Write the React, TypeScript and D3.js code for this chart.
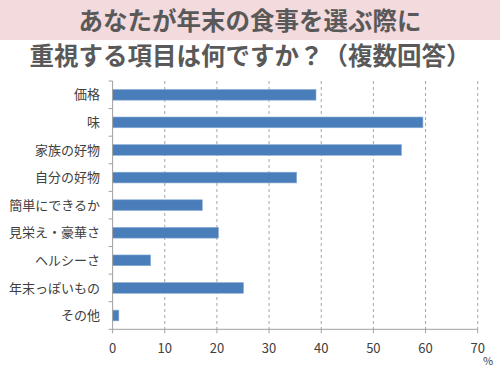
import { useEffect, useRef } from 'react';
import { select, scaleLinear, scaleBand, range } from 'd3';

const width = 500;
const height = 375;
const margin = { top: 81, right: 22, bottom: 46, left: 112.6 };

const titleLines = ['あなたが年末の食事を選ぶ際に', '重視する項目は何ですか？（複数回答）'];
const categories = ['価格', '味', '家族の好物', '自分の好物', '簡単にできるか', '見栄え・豪華さ', 'ヘルシーさ', '年末っぽいもの', 'その他'];
const values = [39.0, 59.5, 55.4, 35.3, 17.2, 20.3, 7.3, 25.1, 1.2];
const xTicks = [0, 10, 20, 30, 40, 50, 60, 70];

const font = '"Noto Sans CJK JP", "Noto Sans", sans-serif';

export default function App() {
  const ref = useRef<SVGSVGElement>(null);

  useEffect(() => {
    const svg = select(ref.current);
    svg.selectAll('*').remove();

    const innerW = 477.7 - margin.left;
    const x = scaleLinear().domain([0, 70]).range([margin.left, margin.left + innerW]);
    const y = scaleBand<string>()
      .domain(categories)
      .range([margin.top, 329.3])
      .paddingInner(0.61)
      .paddingOuter(0.305);
    const bottom = 329.3;

    // title band
    svg.append('rect').attr('x', 0).attr('y', 0).attr('width', width).attr('height', 40).attr('fill', '#f2dadd');
    svg
      .selectAll('.title')
      .data(titleLines)
      .join('text')
      .attr('class', 'title')
      .attr('x', width / 2)
      .attr('y', (d, i) => 30 + i * 34.5)
      .attr('text-anchor', 'middle')
      .attr('font-family', font)
      .attr('font-size', 24.5)
      .attr('font-weight', 700)
      .attr('fill', '#595959')
      .text((d) => d);

    // gridlines
    svg
      .selectAll('.grid')
      .data(xTicks.slice(1))
      .join('line')
      .attr('class', 'grid')
      .attr('x1', (d) => x(d))
      .attr('x2', (d) => x(d))
      .attr('y1', margin.top)
      .attr('y2', bottom)
      .attr('stroke', '#a6a6a6')
      .attr('stroke-width', 1)
      .attr('stroke-dasharray', '3,3');

    // bars
    svg
      .selectAll('.bar')
      .data(values)
      .join('rect')
      .attr('class', 'bar')
      .attr('x', x(0))
      .attr('y', (d, i) => y(categories[i])!)
      .attr('width', (d) => x(d) - x(0))
      .attr('height', y.bandwidth())
      .attr('fill', '#4a7ebb')
      .attr('stroke', '#8fb0da')
      .attr('stroke-width', 0.6);

    // axes
    const step = y.step();
    svg.append('line').attr('x1', x(0)).attr('x2', x(0)).attr('y1', margin.top).attr('y2', bottom).attr('stroke', '#a0a0a0');
    svg.append('line').attr('x1', x(0)).attr('x2', x(70)).attr('y1', bottom).attr('y2', bottom).attr('stroke', '#a0a0a0');
    svg
      .selectAll('.ytick')
      .data(range(categories.length + 1))
      .join('line')
      .attr('class', 'ytick')
      .attr('x1', x(0) - 4)
      .attr('x2', x(0))
      .attr('y1', (i) => margin.top + i * step)
      .attr('y2', (i) => margin.top + i * step)
      .attr('stroke', '#a0a0a0');
    svg
      .selectAll('.xtick')
      .data(xTicks)
      .join('line')
      .attr('class', 'xtick')
      .attr('x1', (d) => x(d))
      .attr('x2', (d) => x(d))
      .attr('y1', bottom)
      .attr('y2', bottom + 4)
      .attr('stroke', '#a0a0a0');

    svg
      .selectAll('.ylabel')
      .data(categories)
      .join('text')
      .attr('class', 'ylabel')
      .attr('x', 100)
      .attr('y', (d) => y(d)! + y.bandwidth() / 2)
      .attr('dy', '0.36em')
      .attr('text-anchor', 'end')
      .attr('font-family', font)
      .attr('font-size', 13)
      .attr('fill', '#404040')
      .text((d) => d);

    svg
      .selectAll('.xlabel')
      .data(xTicks)
      .join('text')
      .attr('class', 'xlabel')
      .attr('x', (d) => x(d))
      .attr('y', 353)
      .attr('text-anchor', 'middle')
      .attr('font-family', font)
      .attr('font-size', 13)
      .attr('fill', '#404040')
      .text((d) => d);

    svg
      .append('text')
      .attr('x', 488)
      .attr('y', 365)
      .attr('text-anchor', 'middle')
      .attr('font-family', font)
      .attr('font-size', 11)
      .attr('fill', '#404040')
      .text('%');
  }, []);

  return (
    <svg
      ref={ref}
      width={width}
      height={height}
      style={{ position: 'absolute', left: 0, top: 0, background: '#ffffff' }}
    />
  );
}
